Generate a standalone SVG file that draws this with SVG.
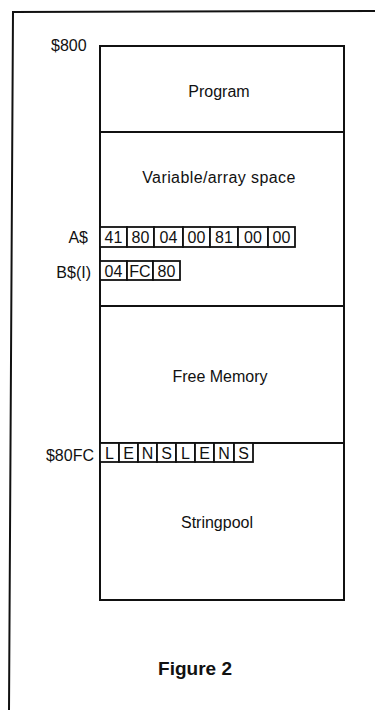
<svg xmlns="http://www.w3.org/2000/svg" width="375" height="710" viewBox="0 0 375 710">
<style>
.t{font-family:"Liberation Sans",Arial,sans-serif;font-size:16px;fill:#111}
.c{font-family:"Liberation Sans",Arial,sans-serif;font-size:16px;fill:#111;text-anchor:middle}
.line{fill:none;stroke:#111;stroke-width:2}
.cell{fill:#fff;stroke:#111;stroke-width:1.8}
</style>
<rect width="375" height="710" fill="#fff"/>
<g id="frame">
<path class="line" d="M375 11 L13 12 L9 710"/>
</g>
<g id="memory">
<rect class="line" x="100" y="46" width="244" height="554"/>
<line class="line" x1="100" y1="132" x2="344" y2="132"/>
<line class="line" x1="100" y1="306" x2="344" y2="306"/>
<line class="line" x1="100" y1="443" x2="344" y2="443"/>
</g>
<g id="labels">
<text class="t" x="51" y="51">$800</text>
<text class="c" x="219" y="97">Program</text>
<text class="c" x="219" y="183" style="letter-spacing:0.4px">Variable/array space</text>
<text class="c" x="220" y="382">Free Memory</text>
<text class="c" x="217" y="528">Stringpool</text>
<text class="t" x="88" y="243" text-anchor="end">A$</text>
<text class="t" x="91" y="278" text-anchor="end">B$(I)</text>
<text class="t" x="94" y="461" text-anchor="end">$80FC</text>
<text class="c" x="195" y="675" style="font-weight:bold;font-size:19px">Figure 2</text>
</g>
<g id="a-cells">
<rect class="cell" x="100" y="227" width="27" height="20"/><text class="c" x="113.5" y="243">41</text>
<rect class="cell" x="127" y="227" width="27" height="20"/><text class="c" x="140.5" y="243">80</text>
<rect class="cell" x="154" y="227" width="29" height="20"/><text class="c" x="168.5" y="243">04</text>
<rect class="cell" x="183" y="227" width="27" height="20"/><text class="c" x="196.5" y="243">00</text>
<rect class="cell" x="210" y="227" width="28" height="20"/><text class="c" x="224" y="243">81</text>
<rect class="cell" x="238" y="227" width="30" height="20"/><text class="c" x="253" y="243">00</text>
<rect class="cell" x="268" y="227" width="27" height="20"/><text class="c" x="281.5" y="243">00</text>
</g>
<g id="b-cells">
<rect class="cell" x="100" y="261" width="27" height="19"/><text class="c" x="113.5" y="277">04</text>
<rect class="cell" x="127" y="261" width="26" height="19"/><text class="c" x="140" y="277">FC</text>
<rect class="cell" x="153" y="261" width="27" height="19"/><text class="c" x="166.5" y="277">80</text>
</g>
<g id="s-cells">
<rect class="cell" x="100" y="443" width="19" height="19"/><text class="c" x="109.5" y="459">L</text>
<rect class="cell" x="119" y="443" width="19" height="19"/><text class="c" x="128.5" y="459">E</text>
<rect class="cell" x="138" y="443" width="19" height="19"/><text class="c" x="147.5" y="459">N</text>
<rect class="cell" x="157" y="443" width="19" height="19"/><text class="c" x="166.5" y="459">S</text>
<rect class="cell" x="176" y="443" width="19" height="19"/><text class="c" x="185.5" y="459">L</text>
<rect class="cell" x="195" y="443" width="19" height="19"/><text class="c" x="204.5" y="459">E</text>
<rect class="cell" x="214" y="443" width="20" height="19"/><text class="c" x="224" y="459">N</text>
<rect class="cell" x="234" y="443" width="19" height="19"/><text class="c" x="243.5" y="459">S</text>
</g>
</svg>
